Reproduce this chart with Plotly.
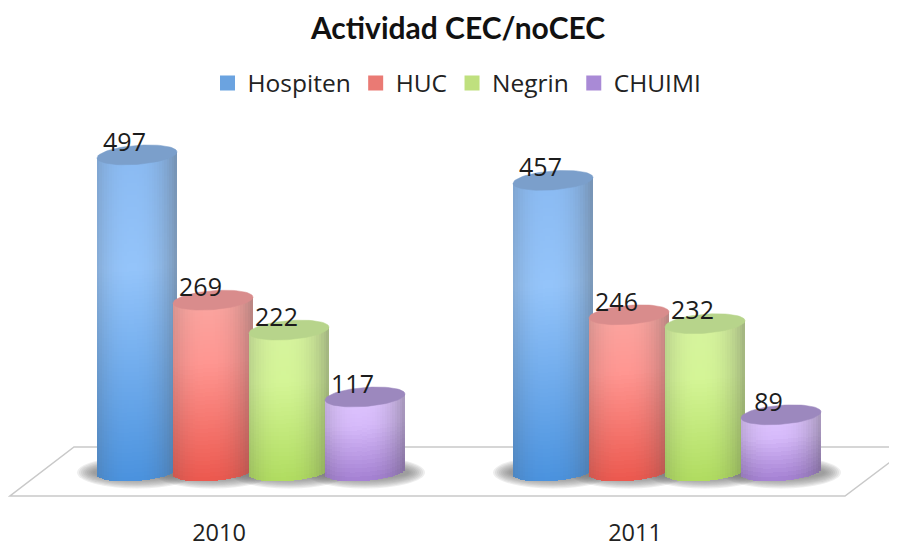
import math
import plotly.graph_objects as go

# ---- data
categories = ["2010", "2011"]
series_names = ["Hospiten", "HUC", "Negrin", "CHUIMI"]
hospiten = [497, 457]
huc = [269, 246]
negrin = [222, 232]
chuimi = [117, 89]
title_text = "Actividad CEC/noCEC"

# ---- styles: (top, middle, bottom) centre colours, cap colour, legend colour
centre_colors = [
    [(138, 186, 242), (148, 196, 250), (74, 146, 222)],
    [(250, 165, 160), (255, 150, 145), (236, 88, 78)],
    [(214, 243, 158), (212, 245, 150), (176, 220, 96)],
    [(222, 196, 255), (214, 186, 250), (164, 128, 210)],
]
cap_colors = ["#7b9fcb", "#d98c8c", "#b7d48b", "#9c88be"]
legend_colors = ["#6ba3e0", "#ea7a74", "#bfe07e", "#a98ad6"]

# ---- layout geometry (the page adds a body margin, so the offsets are taken off every pixel position)
OFF_X, OFF_Y = 8, 7
W, H = 897, 546
MB = 38
PLOT_H = H - MB
PX_PER_VALUE = 0.637
ZERO_PX = 470.5 - OFF_Y
CAT_PX = [219 - OFF_X, 635 - OFF_X]
CAT_SPAN = CAT_PX[1] - CAT_PX[0]
R_PX, B_PX, TILT = 40.0, 9.5, 0.075
PITCH_PX = 76
GROUP_SHIFT_PX = 32
STRIP_PX, SEG_PX = 2.5, 4.0


def dx(px):  # horizontal pixels to x-axis units
    return px / CAT_SPAN


def dy(px):  # vertical pixels to y-axis units
    return px / PX_PER_VALUE


def lerp(a, b, t):
    return tuple(a[i] + (b[i] - a[i]) * t for i in range(3))


def centre_color(stops, t):
    return lerp(stops[0], stops[1], t / 0.35) if t < 0.35 else lerp(stops[1], stops[2], (t - 0.35) / 0.65)


def shade(c, u):
    f = 1 - 0.42 * min(abs(u), 1) ** 2.4
    g = 90
    return "rgb(%d,%d,%d)" % tuple(round(g + (v - g) * f) for v in c)


fig = go.Figure()
all_values = [hospiten, huc, negrin, chuimi]
shapes = []

# floor
shapes.append(dict(type="path", xref="x domain", yref="y domain", layer="below",
                   path="M %f %f L %f %f L %f %f L %f %f Z" % (
                       (10 - OFF_X) / W, 1 - (495 - OFF_Y) / PLOT_H, (845 - OFF_X) / W, 1 - (495 - OFF_Y) / PLOT_H,
                       (910 - OFF_X) / W, 1 - (446 - OFF_Y) / PLOT_H, (74 - OFF_X) / W, 1 - (446 - OFF_Y) / PLOT_H),
                   line=dict(color="#c9c9c9", width=1.5), fillcolor="white"))

cap_traces, label_traces = [], []
for s, name in enumerate(series_names):
    xs, bases, hs, cols = [], [], [], []
    lab_x, lab_y, lab_t = [], [], []
    offset = dx(GROUP_SHIFT_PX + (s - 1.5) * PITCH_PX)
    for c, val in enumerate(all_values[s]):
        cx = c + offset
        # soft shadow on the floor
        for k in range(9):
            rx, ry = 60 - 2 * k, 16 - 1.2 * k
            shapes.append(dict(type="circle", xref="x", yref="y", layer="below",
                               x0=cx - dx(rx), x1=cx + dx(rx),
                               y0=-dy(ry) - dy(1), y1=dy(ry) - dy(1),
                               fillcolor="rgba(120,120,120,0.13)", line=dict(width=0)))
        # body as vertical strips with a shaded surface
        n = int(round(2 * R_PX / STRIP_PX))
        for i in range(n):
            d = -R_PX + (i + 0.5) * STRIP_PX
            u = (d + 5) / (R_PX + 5)
            low = dy(TILT * d) - dy(B_PX * math.sqrt(max(0, 1 - (d / R_PX) ** 2)))
            top = val + dy(TILT * d)
            segs = max(2, int((top - low) * PX_PER_VALUE / SEG_PX))
            for j in range(segs):
                t = (j + 0.5) / segs
                seg_top = top - (top - low) * j / segs
                seg_bot = top - (top - low) * (j + 1) / segs
                xs.append(cx + dx(d))
                bases.append(seg_bot)
                hs.append(seg_top - seg_bot + (dy(0.6) if j > 0 else 0))
                cols.append(shade(centre_color(centre_colors[s], t), u))
        # top cap
        ts = [2 * math.pi * a / 72 for a in range(73)]
        cap_x = [cx + dx(R_PX * math.cos(a)) for a in ts]
        cap_y = [val + dy(TILT * R_PX * math.cos(a) + B_PX * math.sin(a)) for a in ts]
        cap_traces.append(go.Scatter(x=cap_x, y=cap_y, mode="lines", fill="toself",
                                     fillcolor=cap_colors[s], line=dict(width=0.5, color=cap_colors[s]),
                                     showlegend=False, hoverinfo="skip"))
        lab_x.append(cx - dx(12.5))
        lab_y.append(val + dy(10.5))
        lab_t.append(str(val))
    fig.add_trace(go.Bar(x=xs, y=hs, base=bases, width=dx(STRIP_PX + 0.8),
                         marker=dict(color=cols, line=dict(width=0)),
                         showlegend=False, hoverinfo="skip"))
    label_traces.append(go.Scatter(x=lab_x, y=lab_y, text=lab_t, mode="text", textposition="middle center",
                                   textfont=dict(family="Open Sans", size=25, color="#1c1c1c"),
                                   showlegend=False, hoverinfo="skip"))

for tr in cap_traces + label_traces:
    fig.add_trace(tr)

# legend entries
for s, name in enumerate(series_names):
    fig.add_trace(go.Scatter(x=[None], y=[None], name=name, mode="markers",
                             marker=dict(symbol="square", size=15, color=legend_colors[s])))

fig.update_layout(
    width=W, height=H, autosize=False,
    margin=dict(l=0, r=0, t=0, b=MB),
    paper_bgcolor="white", plot_bgcolor="white",
    barmode="overlay", bargap=0,
    shapes=shapes,
    title=dict(text="<b>%s</b>" % title_text, x=(458 - OFF_X) / W, xanchor="center", y=1 - (28 - 8) / H,
               yanchor="middle", font=dict(family="Lato", size=30, color="#111111")),
    legend=dict(orientation="h", x=(457 - OFF_X) / W, xanchor="center", y=1 - (83 - 8) / PLOT_H, yanchor="middle",
                font=dict(family="Open Sans", size=24.5, color="#222222"),
                itemwidth=30, bgcolor="rgba(0,0,0,0)", traceorder="normal"),
    xaxis=dict(range=[(0 - CAT_PX[0]) / CAT_SPAN, (W - CAT_PX[0]) / CAT_SPAN],
               tickmode="array", tickvals=[0, 1], ticktext=categories,
               showgrid=False, zeroline=False, showline=False, ticks="",
               ticklabelstandoff=0,
               tickfont=dict(family="Open Sans", size=23.5, color="#222222")),
    yaxis=dict(range=[(ZERO_PX - PLOT_H) / PX_PER_VALUE, ZERO_PX / PX_PER_VALUE],
               showgrid=False, zeroline=False, showline=False, showticklabels=False, ticks=""),
)
fig.write_html("out.html")
